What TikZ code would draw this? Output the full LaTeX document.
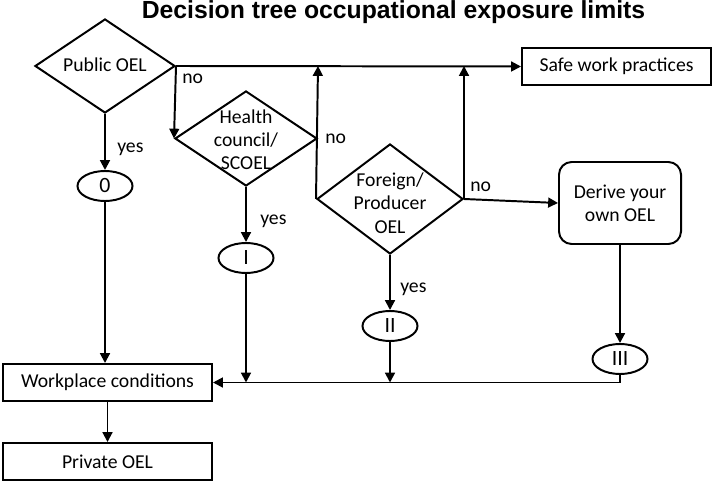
\documentclass[tikz,border=0pt]{standalone}
\usepackage{fontspec}
\setmainfont{Carlito}
\newfontfamily\titlefont{Liberation Sans}
\usetikzlibrary{positioning,shapes.geometric,arrows.meta}

\begin{document}
\begin{tikzpicture}[x=0.025cm, y=-0.025cm,
					every node/.style={font=\fontsize{14}{16.5}\selectfont},
					boxnode/.style={rectangle, draw=black, line width=1.4pt, minimum height=0.925cm, inner sep=0pt},
					roundbox/.style={rectangle, rounded corners=9pt, draw=black, line width=1.4pt, align=center, inner sep=0pt},
					decision/.style={diamond, draw=black, line width=1.4pt, inner sep=0pt},
					dlabel/.style={align=center, inner sep=0pt},
					levelnode/.style={ellipse, draw=black, line width=1.4pt, minimum width=1.375cm, minimum height=0.75cm, inner sep=0pt, font=\fontsize{15.5}{18}\selectfont},
					lbl/.style={anchor=west, inner sep=0pt},
					arr/.style={line width=1.4pt, -{Triangle[length=7pt,width=7pt]}},
					]
					\useasboundingbox (0,0) rectangle (714,484);
					%Title
					\node[font=\titlefont\fontsize{17.6}{20}\selectfont\bfseries] (title) at (393.5,12.5) {Decision tree occupational exposure limits};
					%Nodes
					\node[decision, minimum width=3.5cm, minimum height=2.35cm,
						label={[dlabel,yshift=1pt]center:Public OEL}]               (pub)  at (105,66)    {};
					\node[decision, minimum width=3.55cm, minimum height=2.375cm,
						label={[dlabel,yshift=-1pt]center:{Health\\council/\\SCOEL}}] (hc)   at (246,138.5) {};
					\node[decision, minimum width=3.65cm, minimum height=2.75cm,
						label={[dlabel,yshift=-3pt]center:{Foreign/\\Producer\\OEL}}] (fo)   at (390,199)   {};
					\node[boxnode, minimum width=4.725cm]                             (safe) at (616.5,66.5) {Safe work practices};
					\node[roundbox, minimum width=3.05cm, minimum height=2.05cm]      (der)  at (620,203)   {Derive your\\own OEL};
					\node[levelnode]      (z0)  at (105,186)  {0};
					\node[levelnode]      (r1)  at (246,258)  {I};
					\node[levelnode]      (r2)  at (390,326)  {II};
					\node[levelnode]      (r3)  at (620,359)  {III};
					\node[boxnode, minimum width=5.225cm]                             (wp)   at (107.5,382.5) {Workplace conditions};
					\node[boxnode, minimum width=5.225cm]                             (po)   at (107.5,461.5) {Private OEL};
					
					%Answers
					\node[lbl]     (no1)   at (182,79)   {no};
					\node[lbl]     (yes1)  at (117,149)  {yes};
					\node[lbl]     (no2)   at (325,139)  {no};
					\node[lbl]     (yes2)  at (260,221)  {yes};
					\node[lbl]     (no3)   at (470,187)  {no};
					\node[lbl]     (yes3)  at (400,289)  {yes};
					
					%Lines
					\draw[arr] (pub.east) -- (safe.west);
					\draw[arr] (pub.east) -- (hc.west);
					\draw[arr,{Triangle[length=7pt,width=7pt]}-] (hc.east |- pub.east) -- (fo.west);
					\draw[arr] (fo.east) -- (fo.east |- pub.east);
					\draw[arr] (fo.east) -- (der.west);
					\draw[arr] (pub.south) -- (z0.north);
					\draw[arr] (z0.south) -- (z0.south |- wp.north);
					\draw[arr] (hc.south) -- (r1.north);
					\draw[arr] (r1.south) -- (r1.south |- wp.east);
					\draw[arr] (fo.south) -- (r2.north);
					\draw[arr] (r2.south) -- (r2.south |- wp.east);
					\draw[arr] (der.south) -- (r3.north);
					\draw[arr] (r3.south) |- (wp.east);
					\draw[arr] (wp.south) -- (po.north);
				\end{tikzpicture}
\end{document}
